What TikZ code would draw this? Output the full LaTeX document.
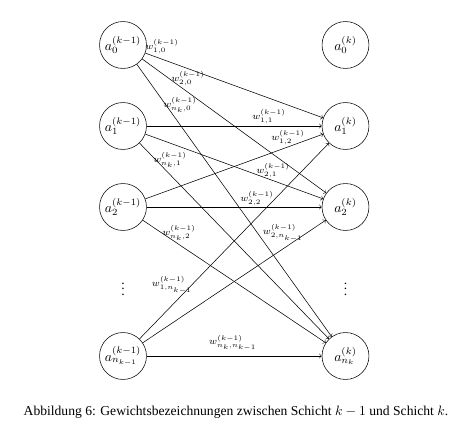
\documentclass[tikz,border=0pt]{standalone}
\usepackage{amsmath}
\usepackage{fontspec}
\setmainfont{Liberation Serif}
\usepackage{tikz}
\usetikzlibrary{arrows}
\tikzstyle{neuron} = [circle, minimum size=34.5pt, inner sep=0pt, draw=black]
\tikzstyle{weight} = [font=\scriptsize, inner sep=0pt]
\tikzstyle{arrow} = [->]

\begin{document}
\begin{tikzpicture}[x=0.735pt,y=-0.735pt]

    \useasboundingbox (0,0) rectangle (456,440);

    % Nodes
    \node (prev0) [neuron] at (123,45) {$a_0^{(k-1)}$};
    \node (prev1) [neuron] at (123,126) {$a_1^{(k-1)}$};
    \node (prev2) [neuron] at (123,207) {$a_2^{(k-1)}$};
    \node (prevdots) at (123,285) {$\vdots$};
    \node (prevn) [neuron] at (123,356) {$a_{n_{k-1}}^{(k-1)}$};

    \node (next0) [neuron] at (345.5,45) {$a_0^{(k)}$};
    \node (next1) [neuron] at (345.5,126) {$a_1^{(k)}$};
    \node (next2) [neuron] at (345.5,207) {$a_2^{(k)}$};
    \node (nextdots) at (345.5,285) {$\vdots$};
    \node (nextn) [neuron] at (345.5,356) {$a_{n_k}^{(k)}$};

    % Arrows
    \draw [arrow] (prev0) -- (next1);
    \draw [arrow] (prev0) -- (next2);
    \draw [arrow] (prev0) -- (nextn);
    \draw [arrow] (prev1) -- (next1);
    \draw [arrow] (prev1) -- (next2);
    \draw [arrow] (prev1) -- (nextn);
    \draw [arrow] (prev2) -- (next1);
    \draw [arrow] (prev2) -- (next2);
    \draw [arrow] (prev2) -- (nextn);
    \draw [arrow] (prevn) -- (next1);
    \draw [arrow] (prevn) -- (next2);
    \draw [arrow] (prevn) -- (nextn);

    % Weights
    \node (w10) [weight] at (162,47) {$w^{(k-1)}_{1,0}$};
    \node (w20) [weight] at (188,79) {$w^{(k-1)}_{2,0}$};
    \node (wn0) [weight] at (180,105) {$w^{(k-1)}_{n_k,0}$};
    \node (w11) [weight] at (269,117) {$w^{(k-1)}_{1,1}$};
    \node (w12) [weight] at (288,138) {$w^{(k-1)}_{1,2}$};
    \node (wn1) [weight] at (170,160) {$w^{(k-1)}_{n_k,1}$};
    \node (w21) [weight] at (273,171) {$w^{(k-1)}_{2,1}$};
    \node (w22) [weight] at (257,199) {$w^{(k-1)}_{2,2}$};
    \node (wn2) [weight] at (179,233) {$w^{(k-1)}_{n_k,2}$};
    \node (w2n) [weight] at (283,233) {$w^{(k-1)}_{2,n_{k-1}}$};
    \node (w1n) [weight] at (172,285) {$w^{(k-1)}_{1,n_{k-1}}$};
    \node (wnn) [weight] at (233,343) {$w^{(k-1)}_{n_k,n_{k-1}}$};

    % Caption
    \node (caption) at (236,412) {Abbildung 6: Gewichtsbezeichnungen zwischen Schicht $k-1$ und Schicht $k$.};

\end{tikzpicture}
\end{document}
